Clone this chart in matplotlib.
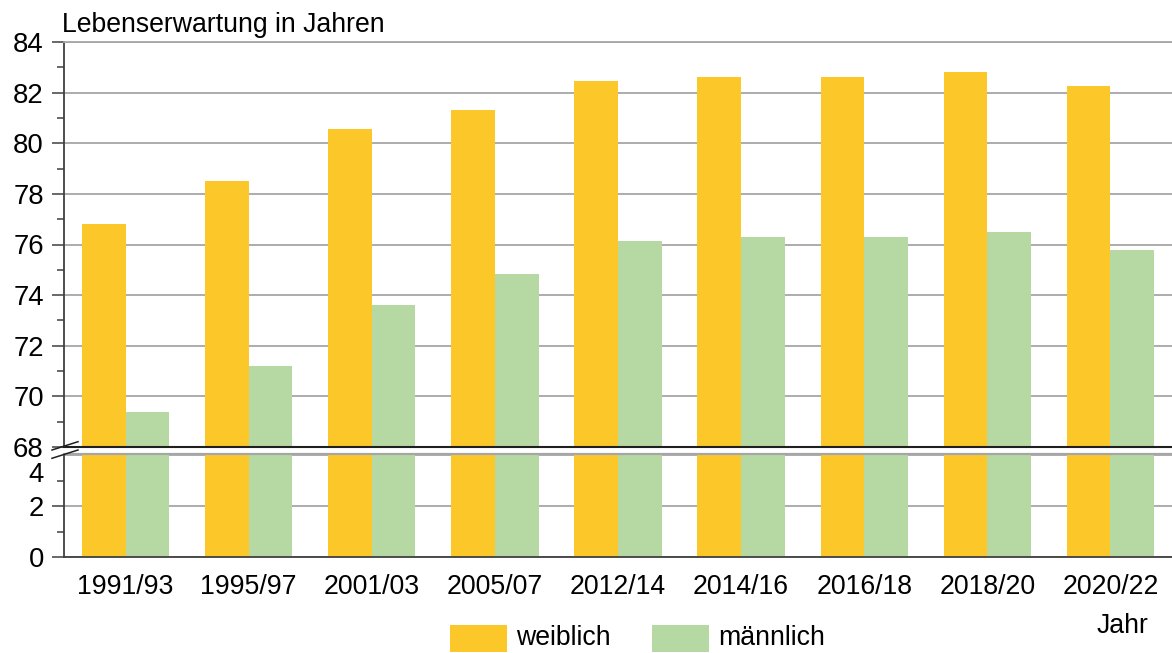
import matplotlib
matplotlib.use("Agg")
import matplotlib.pyplot as plt
import matplotlib.transforms as mtransforms
from matplotlib.lines import Line2D
from matplotlib.patches import Rectangle
import numpy as np

plt.rcParams['font.family'] = ['Liberation Sans', 'DejaVu Sans']

categories = ["1991/93", "1995/97", "2001/03", "2005/07", "2012/14",
              "2014/16", "2016/18", "2018/20", "2020/22"]
weiblich = [76.8, 78.5, 80.55, 81.3, 82.45, 82.6, 82.6, 82.8, 82.25]
maennlich = [69.4, 71.2, 73.6, 74.85, 76.15, 76.3, 76.3, 76.5, 75.8]
series_labels = ["weiblich", "männlich"]
top_ticks = [68, 70, 72, 74, 76, 78, 80, 82, 84]
bottom_ticks = [0, 2, 4]

c_w = "#FCC829"
c_m = "#B6D9A3"
grid_c = "#A6A6A6"
spine_c = "#404040"
FS = 19.2
FSY = 19.8

W, H = 1172, 653
fig = plt.figure(figsize=(W / 100, H / 100), dpi=100)

def fx(px):
    return px / W

def fy(py):
    return 1 - py / H

left = fx(64)
right = 1.0
ax_top = fig.add_axes([left, fy(447), right - left, fy(42) - fy(447)])
ax_bot = fig.add_axes([left, fy(557), right - left, fy(454) - fy(557)])

x = np.arange(len(categories))
bw = 0.355

for ax in (ax_top, ax_bot):
    ax.bar(x - bw / 2, weiblich, bw, color=c_w, zorder=2)
    ax.bar(x + bw / 2, maennlich, bw, color=c_m, zorder=2)
    ax.set_xlim(-0.5, len(categories) - 0.5)
    ax.yaxis.grid(True, color=grid_c, linewidth=1.3, zorder=0)
    ax.set_axisbelow(True)
    ax.spines['right'].set_visible(False)
    ax.spines['left'].set_color(spine_c)
    ax.spines['left'].set_linewidth(1.3)
    ax.tick_params(axis='y', which='major', length=8.5, width=1.1,
                   color=spine_c, labelsize=FSY, pad=6)
    ax.tick_params(axis='y', which='minor', length=5, width=1.1, color=spine_c)

# top axis
ax_top.set_ylim(68, 84)
ax_top.set_yticks(top_ticks)
ax_top.set_yticks([69, 71, 73, 75, 77, 79, 81, 83], minor=True)
ax_top.spines['top'].set_color(grid_c)
ax_top.spines['top'].set_linewidth(1.3)
ax_top.spines['bottom'].set_color("#202020")
ax_top.spines['bottom'].set_linewidth(1.5)
ax_top.tick_params(axis='x', length=0, labelbottom=False)

# bottom axis
ax_bot.set_ylim(0, 4.05)
ax_bot.set_yticks(bottom_ticks)
ax_bot.set_yticks([1, 3], minor=True)
ax_bot.spines['top'].set_color(grid_c)
ax_bot.spines['top'].set_linewidth(1.6)
ax_bot.spines['bottom'].set_color(spine_c)
ax_bot.spines['bottom'].set_linewidth(1.3)
ax_bot.set_xticks(x)
ax_bot.set_xticklabels(categories, fontsize=FS)
ax_bot.tick_params(axis='x', length=0, pad=12)
# shift the "4" label down like the reference
lbl4 = ax_bot.get_yticklabels()[2]
lbl4.set_transform(lbl4.get_transform() +
                   mtransforms.ScaledTranslation(0, -17 / 100, fig.dpi_scale_trans))
ax_bot.get_yticklines()[4].set_visible(False)

# break slashes
for (x0, y0, x1, y1) in [(52, 450, 78, 441.7), (52, 458.3, 78, 450)]:
    fig.add_artist(Line2D([fx(x0), fx(x1)], [fy(y0), fy(y1)],
                          color="#202020", linewidth=1.1))

# y-axis title
fig.text(fx(62), fy(25), "Lebenserwartung in Jahren", fontsize=FS,
         ha='left', va='center')
# x-axis title
fig.text(fx(1122), fy(626), "Jahr", fontsize=FS, ha='center', va='center')

# legend
for (px, col, lab) in [(450, c_w, series_labels[0]), (652, c_m, series_labels[1])]:
    fig.add_artist(Rectangle((fx(px), fy(652)), fx(57), fy(625) - fy(652),
                             facecolor=col, edgecolor='none',
                             transform=fig.transFigure))
    fig.text(fx(px + 66), fy(638), lab, fontsize=FS, ha='left', va='center')

fig.savefig("out.png", dpi=100)
